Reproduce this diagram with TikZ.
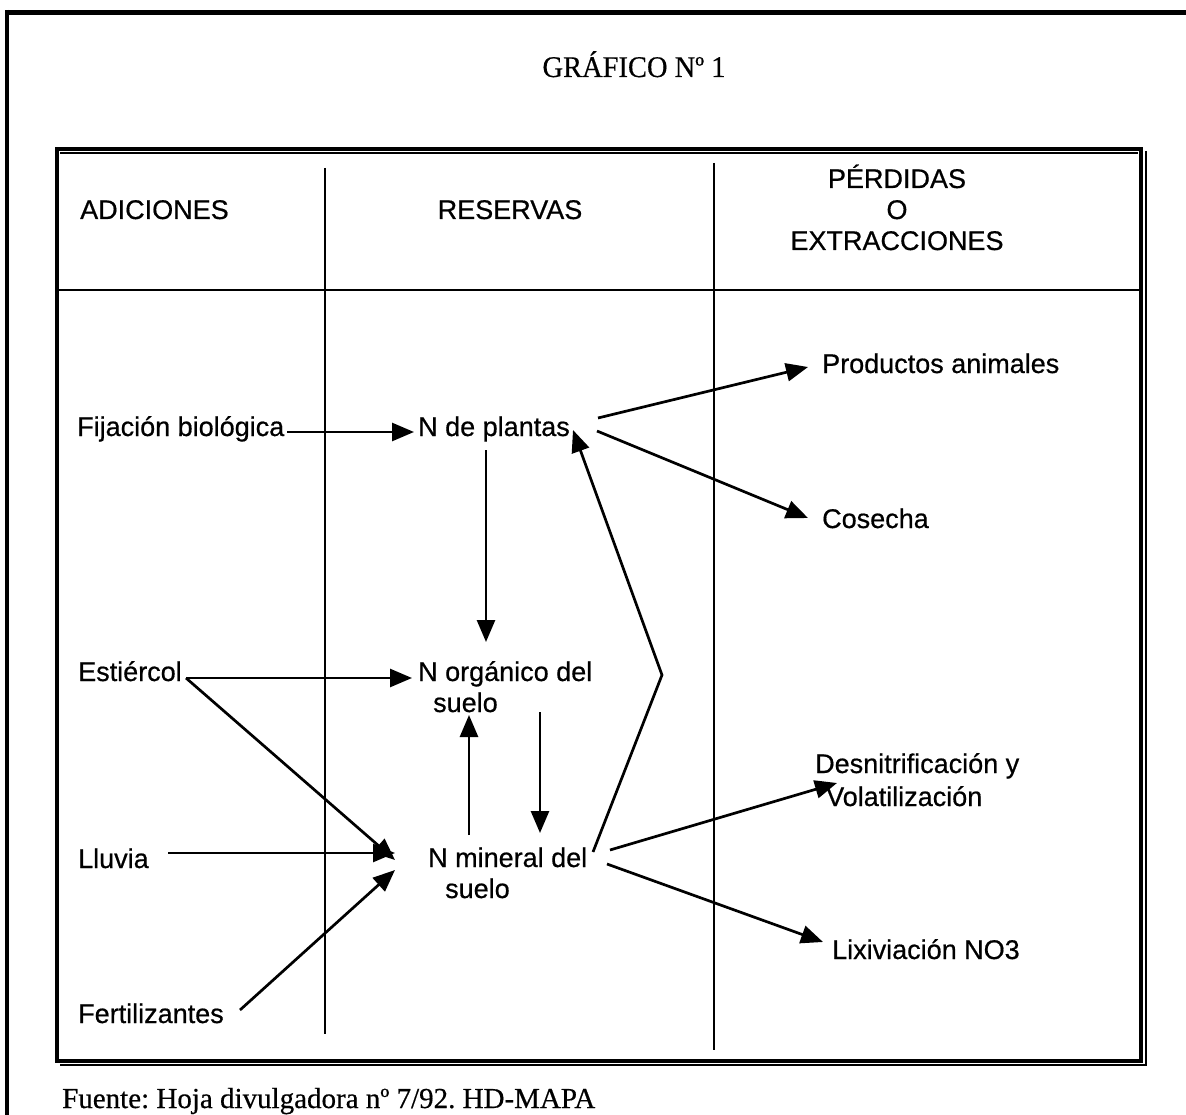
\documentclass[tikz,border=0pt]{standalone}
\usepackage{fontspec}
\setmainfont{Liberation Sans}[FakeBold=0.6]
\newfontfamily\seriffam{Liberation Serif}[FakeBold=0.5]
\usetikzlibrary{arrows.meta,calc}
\frenchspacing
\tikzset{
  lbl/.style={font=\fontsize{27}{31}\selectfont, inner sep=0pt, anchor=base west},
  hdr/.style={font=\fontsize{27}{31}\selectfont, inner sep=0pt, align=center, anchor=base},
  arr/.style={line width=2.7pt, -{Triangle[length=22pt,width=18pt]}},
  colline/.style={line width=1.6pt},
  frame/.style={line width=5pt},
}
\begin{document}
\begin{tikzpicture}[x=1pt,y=-1pt]
\useasboundingbox (0,0) rectangle (1186,1115);
% outer frame (top and left)
\draw[frame] (7,12.5) -- (1186,12.5);
\draw[line width=4pt] (7,10) -- (7,1115);
% inner table box
\draw[line width=3.5pt] (57,149) rectangle (1141,1061);
\draw[line width=2.5pt] (1146,151) -- (1146,1065) -- (60,1065);
\draw[line width=1.5pt] (60,153) -- (1138,153);
\draw[line width=2.5pt] (57,290) -- (1141,290);
\draw[colline] (325,168) -- (325,1034);
\draw[colline] (714,163) -- (714,1050);
% title and source
\node[font=\seriffam\fontsize{30}{34}\selectfont, inner sep=0pt, anchor=base, xscale=0.95] (title) at (634,77) {GRÁFICO Nº 1};
\node[font=\seriffam\fontsize{29}{33}\selectfont, inner sep=0pt, anchor=base west] (src) at (62,1108) {Fuente: Hoja divulgadora nº 7/92. HD-MAPA};
% headers
\node[lbl] (hadd) at (80,219) {ADICIONES};
\node[hdr] (hres) at (510,219) {RESERVAS};
\node[hdr] (hper) at (897,250) {PÉRDIDAS\\O\\EXTRACCIONES};
% labels (multi-line nodes: base = last line)
\node[lbl] (fij) at (77,436) {Fijación biológica};
\node[lbl] (npl) at (418,436) {N de plantas};
\node[lbl] (prod) at (822,373) {Productos animales};
\node[lbl] (cos) at (822,528) {Cosecha};
\node[lbl] (est) at (78,681) {Estiércol};
\node[lbl, align=left] (norg) at (418,712) {N orgánico del\\\hspace*{15pt}suelo};
\node[lbl, align=left] (nmin) at (428,898) {N mineral del\\\hspace*{17pt}suelo};
\node[lbl] (llu) at (78,868) {Lluvia};
\node[lbl] (fert) at (78,1023) {Fertilizantes};
\node[lbl, align=left, font=\fontsize{27}{33}\selectfont] (desn) at (815,806) {Desnitrificación y\\\hspace*{11pt}Volatilización};
\node[lbl] (lix) at (832,959) {Lixiviación NO3};
\coordinate (bend) at (662,675);
% connectors
\draw[arr] ([shift={(210,-4)}]fij.base west) -- ([shift={(-4,-4)}]npl.base west);
\draw[arr] ([shift={(180,-18)}]npl.base west) -- ([shift={(-14,-6)}]prod.base west);
\draw[arr] ([shift={(179,-5)}]npl.base west) -- ([shift={(-14,-10)}]cos.base west);
\draw[arr] ([shift={(68,14)}]npl.base west) -- ([shift={(68,-70)}]norg.base west);
\draw[arr] ([shift={(108,-3)}]est.base west) -- ([shift={(-6,-34)}]norg.base west);
\draw[arr] ([shift={(108,-3)}]est.base west) -- ([shift={(-33,-38)}]nmin.base west);
\draw[arr] ([shift={(90,-15)}]llu.base west) -- ([shift={(-33,-45)}]nmin.base west);
\draw[arr] ([shift={(162,-13)}]fert.base west) -- ([shift={(-33,-28)}]nmin.base west);
\draw[arr] ([shift={(41,-63)}]nmin.base west) -- ([shift={(51,3)}]norg.base west);
\draw[arr] ([shift={(122,0)}]norg.base west) -- ([shift={(112,-65)}]nmin.base west);
\draw[arr] ([shift={(165,-46)}]nmin.base west) -- (bend) -- ([shift={(155,-6)}]npl.base west);
\draw[arr] ([shift={(182,-48)}]nmin.base west) -- ([shift={(22,-23)}]desn.base west);
\draw[arr] ([shift={(179,-34)}]nmin.base west) -- ([shift={(-9,-17)}]lix.base west);
\end{tikzpicture}
\end{document}
